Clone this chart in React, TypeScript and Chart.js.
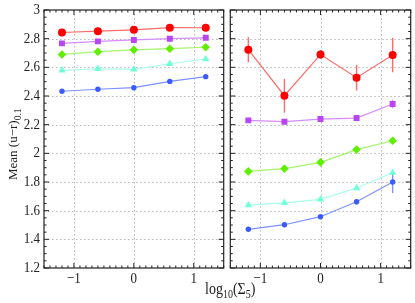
import React, { useEffect, useRef } from "react";
import { Chart, registerables } from "chart.js";

Chart.register(...registerables);

const xValues = [-1.2, -0.6, 0, 0.6, 1.2];
const xTicks = [-1, 0, 1];
const yTicks = [1.2, 1.4, 1.6, 1.8, 2, 2.2, 2.4, 2.6, 2.8, 3];

// left panel
const leftRed = [2.843, 2.852, 2.862, 2.877, 2.876];
const leftPurple = [2.767, 2.781, 2.791, 2.8, 2.806];
const leftGreen = [2.69, 2.709, 2.722, 2.73, 2.74];
const leftCyan = [2.579, 2.59, 2.586, 2.625, 2.658];
const leftBlue = [2.433, 2.447, 2.458, 2.502, 2.535];
const leftRedErr = [0.006, 0.006, 0.006, 0.006, 0.006];
const leftPurpleErr = [0.005, 0.005, 0.005, 0.005, 0.006];
const leftGreenErr = [0.008, 0.006, 0.006, 0.006, 0.012];
const leftCyanErr = [0.004, 0.004, 0.004, 0.004, 0.006];
const leftBlueErr = [0.005, 0.005, 0.005, 0.006, 0.01];

// right panel
const rightRed = [2.723, 2.402, 2.69, 2.528, 2.686];
const rightPurple = [2.23, 2.221, 2.239, 2.246, 2.344];
const rightGreen = [1.874, 1.893, 1.937, 2.026, 2.088];
const rightCyan = [1.639, 1.655, 1.679, 1.758, 1.865];
const rightBlue = [1.47, 1.502, 1.558, 1.662, 1.8];
const rightRedErr = [0.088, 0.118, 0.03, 0.09, 0.12];
const rightPurpleErr = [0.015, 0.008, 0.01, 0.01, 0.03];
const rightGreenErr = [0.012, 0.01, 0.01, 0.012, 0.02];
const rightCyanErr = [0.008, 0.008, 0.01, 0.012, 0.015];
const rightBlueErr = [0.008, 0.01, 0.012, 0.02, 0.077];

const series = [
  { marker: "#ff0000", line: "#ff6a6a", style: "circle", r: 4 },
  { marker: "#b945f5", line: "#d58cff", style: "rect", r: 4.2 },
  { marker: "#5ff000", line: "#a4f56a", style: "rectRot", r: 4.3 },
  { marker: "#70ffd8", line: "#a8ffe8", style: "triangle", r: 4.3 },
  { marker: "#3a5cff", line: "#7d92ff", style: "circle", r: 2.7 },
];

const FONT = "'Liberation Serif', 'DejaVu Serif', serif";
const TICK_FONT = "13px 'Liberation Serif', 'DejaVu Serif', serif";
const STRETCH = 1.2;

const fmtX = (v: number) => (v < 0 ? "\u2212" + Math.abs(v) : String(v));
const fmtY = (v: number) => String(Number(v.toFixed(1)));

function makeDatasets(vals: number[][], errs: number[][]) {
  return vals.map((v, i) => ({
    data: v.map((y, j) => ({ x: xValues[j], y })),
    errors: errs[i],
    borderColor: series[i].line,
    backgroundColor: series[i].marker,
    pointBackgroundColor: series[i].marker,
    pointBorderColor: series[i].marker,
    pointStyle: series[i].style,
    pointRadius: series[i].r,
    pointBorderWidth: 0,
    borderWidth: 1.2,
    showLine: true,
    tension: 0,
  }));
}

const decorPlugin = {
  id: "decor",
  beforeDatasetsDraw(chart: any) {
    const { ctx, chartArea: a, scales } = chart;
    const xs = scales.x, ys = scales.y;
    ctx.save();
    ctx.strokeStyle = "#b8b8b8";
    ctx.lineWidth = 1;
    ctx.setLineDash([1.5, 2.5]);
    xTicks.forEach((v) => {
      const px = Math.round(xs.getPixelForValue(v)) + 0.5;
      ctx.beginPath();
      ctx.moveTo(px, a.top);
      ctx.lineTo(px, a.bottom);
      ctx.stroke();
    });
    yTicks.forEach((v) => {
      if (v <= 1.2 || v >= 3) return;
      const py = Math.round(ys.getPixelForValue(v)) + 0.5;
      ctx.beginPath();
      ctx.moveTo(a.left, py);
      ctx.lineTo(a.right, py);
      ctx.stroke();
    });
    ctx.setLineDash([]);
    // error bars
    chart.data.datasets.forEach((ds: any) => {
      ctx.strokeStyle = ds.borderColor;
      ctx.lineWidth = 1.4;
      ds.data.forEach((p: any, j: number) => {
        const e = ds.errors ? ds.errors[j] : 0;
        if (!e) return;
        const px = xs.getPixelForValue(p.x);
        ctx.beginPath();
        ctx.moveTo(px, ys.getPixelForValue(p.y - e));
        ctx.lineTo(px, ys.getPixelForValue(p.y + e));
        ctx.stroke();
      });
    });
    ctx.restore();
  },
  afterDraw(chart: any) {
    const { ctx, chartArea: a, scales } = chart;
    const xs = scales.x, ys = scales.y;
    const showY = chart.options.plugins.decor.showY;
    ctx.save();
    ctx.strokeStyle = "#222";
    ctx.lineWidth = 1.2;
    ctx.strokeRect(a.left, a.top, a.right - a.left, a.bottom - a.top);
    ctx.lineWidth = 1;
    ctx.beginPath();
    for (let i = -15; i <= 15; i++) {
      const v = i / 10;
      const px = xs.getPixelForValue(v);
      if (px < a.left || px > a.right) continue;
      const len = i % 10 === 0 ? 5 : 2.5;
      ctx.moveTo(px, a.bottom);
      ctx.lineTo(px, a.bottom - len);
      ctx.moveTo(px, a.top);
      ctx.lineTo(px, a.top + len);
    }
    for (let i = 24; i <= 60; i++) {
      const v = i / 20;
      const py = ys.getPixelForValue(v);
      const len = i % 4 === 0 ? 5 : 2.5;
      ctx.moveTo(a.left, py);
      ctx.lineTo(a.left + len, py);
      ctx.moveTo(a.right, py);
      ctx.lineTo(a.right - len, py);
    }
    ctx.stroke();
    // tick labels (vertically stretched like the reference)
    ctx.fillStyle = "#222";
    ctx.font = TICK_FONT;
    ctx.textBaseline = "middle";
    ctx.textAlign = "center";
    xTicks.forEach((v) => {
      ctx.save();
      ctx.translate(xs.getPixelForValue(v), a.bottom + 11);
      ctx.scale(1, STRETCH);
      ctx.fillText(fmtX(v), 0, 0);
      ctx.restore();
    });
    if (showY) {
      ctx.textAlign = "right";
      yTicks.forEach((v) => {
        ctx.save();
        ctx.translate(a.left - 4, ys.getPixelForValue(v));
        ctx.scale(1, STRETCH);
        ctx.fillText(fmtY(v), 0, 0);
        ctx.restore();
      });
    }
    ctx.restore();
  },
};

function buildOptions(showY: boolean, padding: any) {
  return {
    animation: false,
    responsive: false,
    maintainAspectRatio: false,
    layout: { padding },
    plugins: { legend: { display: false }, tooltip: { enabled: false }, decor: { showY } },
    scales: {
      x: {
        type: "linear",
        min: -1.5,
        max: 1.5,
        afterBuildTicks: (ax: any) => {
          ax.ticks = xTicks.map((v) => ({ value: v }));
        },
        afterFit: (ax: any) => {
          ax.height = 35;
        },
        grid: { display: false, drawTicks: false },
        border: { display: false },
        ticks: { display: false },
      },
      y: {
        type: "linear",
        min: 1.2,
        max: 3,
        afterBuildTicks: (ax: any) => {
          ax.ticks = yTicks.map((v) => ({ value: v }));
        },
        afterFit: (ax: any) => {
          ax.width = showY ? 44 : 0;
        },
        grid: { display: false, drawTicks: false },
        border: { display: false },
        ticks: { display: false },
      },
    },
  };
}

function Panel(props: { vals: number[][]; errs: number[][]; showY: boolean; padding: any; width: number; left: number }) {
  const ref = useRef<HTMLCanvasElement>(null);
  useEffect(() => {
    const chart = new Chart(ref.current as HTMLCanvasElement, {
      type: "scatter",
      data: { datasets: makeDatasets(props.vals, props.errs) as any },
      options: buildOptions(props.showY, props.padding) as any,
      plugins: [decorPlugin],
    });
    return () => chart.destroy();
  }, []);
  return (
    <canvas
      ref={ref}
      width={props.width}
      height={303}
      style={{ position: "absolute", left: props.left, top: 0, width: props.width, height: 303 }}
    />
  );
}

export default function App() {
  return (
    <div style={{ position: "fixed", left: 0, top: 0, width: 415, height: 303, background: "#fff", overflow: "hidden" }}>
      <Panel
        vals={[leftRed, leftPurple, leftGreen, leftCyan, leftBlue]}
        errs={[leftRedErr, leftPurpleErr, leftGreenErr, leftCyanErr, leftBlueErr]}
        showY={true}
        padding={{ top: 10, right: 1, left: 0, bottom: 0 }}
        width={228}
        left={0}
      />
      <Panel
        vals={[rightRed, rightPurple, rightGreen, rightCyan, rightBlue]}
        errs={[rightRedErr, rightPurpleErr, rightGreenErr, rightCyanErr, rightBlueErr]}
        showY={false}
        padding={{ top: 10, right: 3, left: 1, bottom: 0 }}
        width={189}
        left={226}
      />
      <div
        style={{
          position: "absolute",
          left: 205,
          top: 280,
          fontFamily: FONT,
          fontSize: 14,
          color: "#222",
          whiteSpace: "nowrap",
          lineHeight: "16px",
          transform: "scale(1, 1.15)",
          transformOrigin: "0 0",
        }}
      >
        log<sub style={{ fontSize: 10 }}>10</sub>(Σ<sub style={{ fontSize: 10 }}>5</sub>)
      </div>
      <div
        style={{
          position: "absolute",
          left: 5,
          top: 180,
          transform: "rotate(-90deg)",
          transformOrigin: "0 0",
          fontFamily: FONT,
          fontSize: 13,
          color: "#222",
          whiteSpace: "nowrap",
          lineHeight: "16px",
        }}
      >
        Mean (u−r)<sub style={{ fontSize: 9.5 }}>0.1</sub>
      </div>
    </div>
  );
}
